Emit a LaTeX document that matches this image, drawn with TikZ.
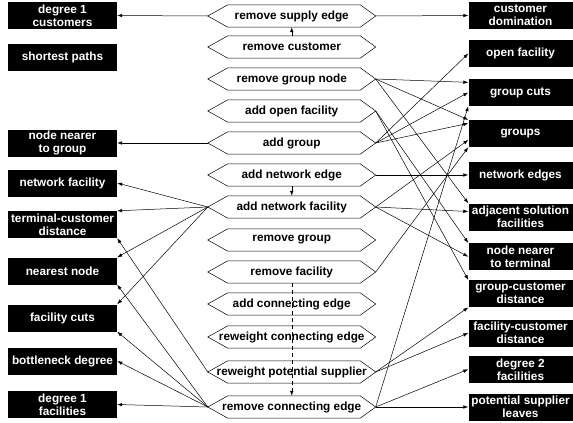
\documentclass[tikz,border=0pt]{standalone}
\usepackage{fontspec}
\setmainfont{Liberation Sans}
\usetikzlibrary{arrows.meta}

\tikzset{
  label font/.style={font=\fontsize{11.8}{13}\selectfont\bfseries},
  result/.style={label font, fill=black, text=white, align=center, inner sep=0pt, minimum height=27pt},
  lresult/.style={result, minimum width=109pt},
  rresult/.style={result, minimum width=104pt},
  test/.style={label font, inner sep=0pt, minimum width=167.5pt, minimum height=22pt},
  dep/.style={->, line width=0.5pt}
}

\begin{document}
\begin{tikzpicture}[x=1pt,y=-1pt,>={Latex[length=5pt,width=3.5pt]}]
    \useasboundingbox (0,0) rectangle (573,423);

    % the tests in the middle column
    \foreach \name/\y/\txt in {
        remsupply/16/remove supply edge,
        remcust/47/remove customer,
        remgnode/79/remove group node,
        addopen/111/add open facility,
        addgroup/143/add group,
        addnedge/175/add network edge,
        addnfac/207/add network facility,
        remgroup/240/remove group,
        remfac/272/remove facility,
        addcon/304/add connecting edge,
        rwcon/337/reweight connecting edge,
        rwpot/372/reweight potential supplier,
        remcon/407/remove connecting edge}
            \node[test] (\name) at (291.75,\y) {\txt};

    % hexagon outline round each test
    \foreach \name in {remsupply,remcust,remgnode,addopen,addgroup,addnedge,addnfac,
                       remgroup,remfac,addcon,rwcon,rwpot,remcon}
        \draw[line width=0.5pt] (\name.west) -- ([xshift=20pt]\name.north west)
            -- ([xshift=-15.5pt]\name.north east) -- (\name.east)
            -- ([xshift=-15.5pt]\name.south east) -- ([xshift=20pt]\name.south west) -- cycle;

    % the results on the left
    \foreach \name/\y/\txt in {
        deg1cust/15.5/degree 1\\customers,
        shortpath/57/shortest paths,
        nngroup/143/node nearer\\to group,
        netfac/183/network facility,
        termcust/224.5/terminal-customer\\distance,
        nearest/271/nearest node,
        faccuts/318/facility cuts,
        bottleneck/361/bottleneck degree,
        deg1fac/404.5/degree 1\\facilities}
            \node[lresult] (\name) at (62.5,\y) {\txt};

    % the results on the right
    \foreach \name/\y/\txt in {
        custdom/15.5/customer\\domination,
        openfac/53.5/open facility,
        groupcuts/92.5/group cuts,
        groups/133.5/groups,
        netedges/175/network edges,
        adjsol/217/adjacent solution\\facilities,
        nnterm/256.7/node nearer\\to terminal,
        groupcust/293.7/group-customer\\distance,
        faccust/333/facility-customer\\distance,
        deg2fac/369.3/degree 2\\facilities,
        potleaves/407/potential supplier\\leaves}
            \node[rresult] (\name) at (520.5,\y) {\txt};

    % links between tests
    \draw[dep] (remcust.north) -- (remsupply.south);
    \draw[dep] (addnedge.south) -- (addnfac.north);
    \draw[dep,dash pattern=on 4pt off 3pt] (remfac.south) -- (remcon.north);

    % links to the left
    \draw[dep] (remsupply.west) -- (deg1cust.east);
    \draw[dep] (addgroup.west) -- (nngroup.east);
    \draw[dep] (addnfac.west) -- (netfac.east);
    \draw[dep] (addnfac.west) -- (termcust.north east);
    \draw[dep] (addnfac.west) -- (nearest.north east);
    \draw[dep] (addnfac.west) -- (faccuts.north east);
    \draw[dep] (rwpot.west) -- (termcust.south east);
    \draw[dep] (remcon.west) -- (nearest.south east);
    \draw[dep] (remcon.west) -- (faccuts.south east);
    \draw[dep] (remcon.west) -- (bottleneck.east);
    \draw[dep] (remcon.west) -- (deg1fac.east);

    % links to the right
    \draw[dep] (remsupply.east) -- (custdom.west);
    \draw[dep] (remgnode.east) -- (groupcuts.169);
    \draw[dep] (remgnode.east) -- (groups.north west);
    \draw[dep] (remgnode.east) -- (adjsol.north west);
    \draw[dep] (addopen.east) -- (nnterm.north west);
    \draw[dep] (addopen.east) -- (groupcust.north west);
    \draw[dep] (addgroup.east) -- (openfac.west);
    \draw[dep] (addgroup.east) -- (groupcuts.west);
    \draw[dep] (addgroup.east) -- (groups.169);
    \draw[dep] (addnedge.east) -- (netedges.west);
    \draw[dep] (addnfac.east) -- (groups.187);
    \draw[dep] (addnfac.east) -- (adjsol.174);
    \draw[dep] (addnfac.east) -- (nnterm.west);
    \draw[dep] (remfac.east) -- (groups.south west);
    \draw[dep] (rwpot.east) -- (groupcust.south west);
    \draw[dep] (rwpot.east) -- (faccust.west);
    \draw[dep] (remcon.east) -- (groupcuts.south west);
    \draw[dep] (remcon.east) -- (deg2fac.west);
    \draw[dep] (remcon.east) -- (potleaves.west);
\end{tikzpicture}
\end{document}
